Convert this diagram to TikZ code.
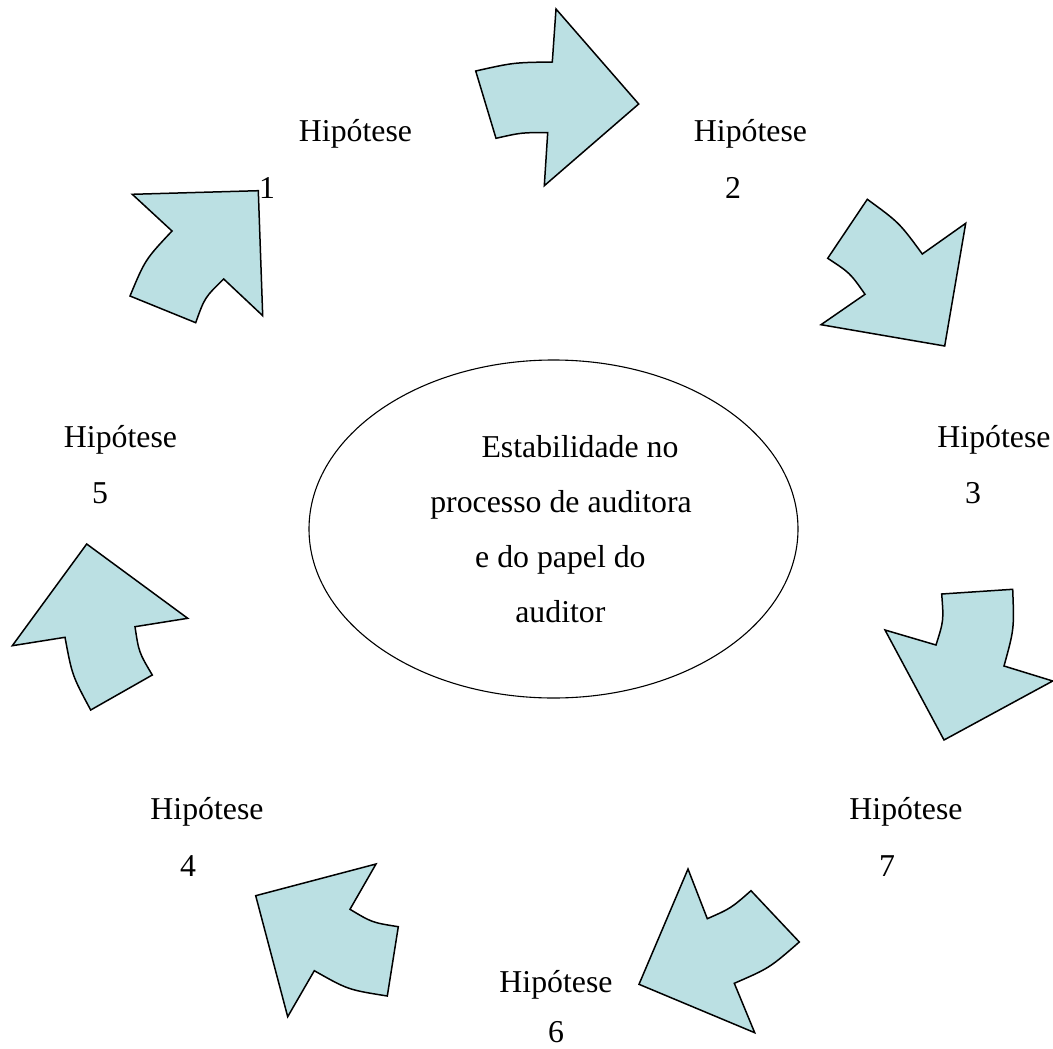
\documentclass[tikz,border=0pt]{standalone}
\usepackage{fontspec}
\setmainfont{Liberation Serif}
\usetikzlibrary{calc,shapes.geometric}
\definecolor{arrowfill}{HTML}{BBE0E3}
\begin{document}
\begin{tikzpicture}[x=1pt,y=-1pt,
  bigarrow/.style={draw=black, fill=arrowfill, line width=1.5pt, line join=miter},
  lbl/.style={anchor=base, inner sep=0pt, font=\fontsize{31.8}{38}\selectfont},
  hub/.style={draw=black, ellipse, line width=1.1pt, inner sep=0pt,
    minimum width=489pt, minimum height=338pt}]
\useasboundingbox (0,0) rectangle (1053,1049);
\coordinate (C) at (553,530);

% arrow toward Hipotese 2
\coordinate (a1) at (475.7,71);   \coordinate (a2) at (552.3,62);
\coordinate (a3) at (556,9);      \coordinate (a4) at (638.7,104);
\coordinate (a5) at (544.3,185.7);\coordinate (a6) at (547.7,132.7);
\coordinate (a7) at (496,138.3);
\draw[bigarrow] (a1) .. controls ($(a1)!0.5!(a2)!-4pt!(C)$) .. (a2) -- (a3) -- (a4) -- (a5) -- (a6)
  .. controls ($(a6)!0.5!(a7)!-3pt!(C)$) .. (a7) -- cycle;

% arrow toward Hipotese 3
\coordinate (b1) at (867.3,199.3); \coordinate (b2) at (922.3,254);
\coordinate (b3) at (965.7,223.3); \coordinate (b4) at (944.7,346);
\coordinate (b5) at (821,324.7);   \coordinate (b6) at (865,294.3);
\coordinate (b7) at (827.7,258.3);
\draw[bigarrow] (b1) .. controls ($(b1)!0.5!(b2)!-6pt!(C)$) .. (b2) -- (b3) -- (b4) -- (b5) -- (b6)
  .. controls ($(b6)!0.5!(b7)!-5pt!(C)$) .. (b7) -- cycle;

% arrow toward Hipotese 1
\coordinate (d1) at (132.3,194.3); \coordinate (d2) at (258.3,190.7);
\coordinate (d3) at (262.7,315.7); \coordinate (d4) at (223.7,279);
\coordinate (d5) at (195.7,322.7); \coordinate (d6) at (130,296);
\coordinate (d7) at (172,231);
\draw[bigarrow] (d1) -- (d2) -- (d3) -- (d4) .. controls ($(d4)!0.5!(d5)!-6pt!(C)$) .. (d5)
  -- (d6) .. controls ($(d6)!0.5!(d7)!-7pt!(C)$) .. (d7) -- cycle;

% arrow toward Hipotese 7
\coordinate (e1) at (941.7,594);  \coordinate (e2) at (1012.7,589.3);
\coordinate (e3) at (1004,666);   \coordinate (e4) at (1052.7,681);
\coordinate (e5) at (944,740);    \coordinate (e6) at (885,630);
\coordinate (e7) at (936,645);
\draw[bigarrow] (e1) -- (e2) .. controls ($(e2)!0.5!(e3)!-6pt!(C)$) .. (e3) -- (e4) -- (e5) -- (e6)
  -- (e7) .. controls ($(e7)!0.5!(e1)!-5pt!(C)$) .. (e1) -- cycle;

% arrow toward Hipotese 5
\coordinate (f1) at (86.7,544);   \coordinate (f2) at (187.7,618.3);
\coordinate (f3) at (135,626.7);  \coordinate (f4) at (152.3,675);
\coordinate (f5) at (90.7,710);   \coordinate (f6) at (65,637.3);
\coordinate (f7) at (12.3,645.7);
\draw[bigarrow] (f1) -- (f2) -- (f3) .. controls ($(f3)!0.5!(f4)!-5pt!(C)$) .. (f4) -- (f5)
  .. controls ($(f5)!0.5!(f6)!-6pt!(C)$) .. (f6) -- (f7) -- cycle;

% arrow toward Hipotese 4
\coordinate (g1) at (376,864);    \coordinate (g2) at (255.7,895.7);
\coordinate (g3) at (287.7,1016.7);\coordinate (g4) at (314.3,970.7);
\coordinate (g5) at (387.3,996);  \coordinate (g6) at (398.3,926.7);
\coordinate (g7) at (350,909.3);
\draw[bigarrow] (g1) -- (g2) -- (g3) -- (g4) .. controls ($(g4)!0.5!(g5)!-7pt!(C)$) .. (g5) -- (g6)
  .. controls ($(g6)!0.5!(g7)!-5pt!(C)$) .. (g7) -- cycle;

% arrow toward Hipotese 6
\coordinate (k1) at (688,869);    \coordinate (k2) at (707.3,918.7);
\coordinate (k3) at (751,890.7);  \coordinate (k4) at (799.3,942);
\coordinate (k5) at (734.3,983.3);\coordinate (k6) at (754.7,1032.7);
\coordinate (k7) at (639,984.3);
\draw[bigarrow] (k1) -- (k2) .. controls ($(k2)!0.5!(k3)!-4pt!(C)$) .. (k3) -- (k4)
  .. controls ($(k4)!0.5!(k5)!-6pt!(C)$) .. (k5) -- (k6) -- (k7) -- cycle;

% central ellipse
\node[hub] (centre) at (553.5,529) {};
\node[lbl] (t1) at (580,457) {Estabilidade no};
\node[lbl] (t2) at (561,512) {processo de auditora};
\node[lbl] (t3) at (560.4,567) {e do papel do};
\node[lbl] (t4) at (560.4,622) {auditor};

% labels
\node[lbl] (h1) at (355.5,142) {Hipótese}; \node[lbl] (n1) at (267,198) {1};
\node[lbl] (h2) at (750.5,142) {Hipótese}; \node[lbl] (n2) at (733,198) {2};
\node[lbl] (h3) at (994,447) {Hipótese};   \node[lbl] (n3) at (973,503) {3};
\node[lbl] (h5) at (120.5,447) {Hipótese}; \node[lbl] (n5) at (100,503) {5};
\node[lbl] (h4) at (207,819) {Hipótese};   \node[lbl] (n4) at (188,876) {4};
\node[lbl] (h7) at (906,819) {Hipótese};   \node[lbl] (n7) at (887,876) {7};
\node[lbl] (h6) at (556,992) {Hipótese};   \node[lbl] (n6) at (556,1042) {6};
\end{tikzpicture}
\end{document}
